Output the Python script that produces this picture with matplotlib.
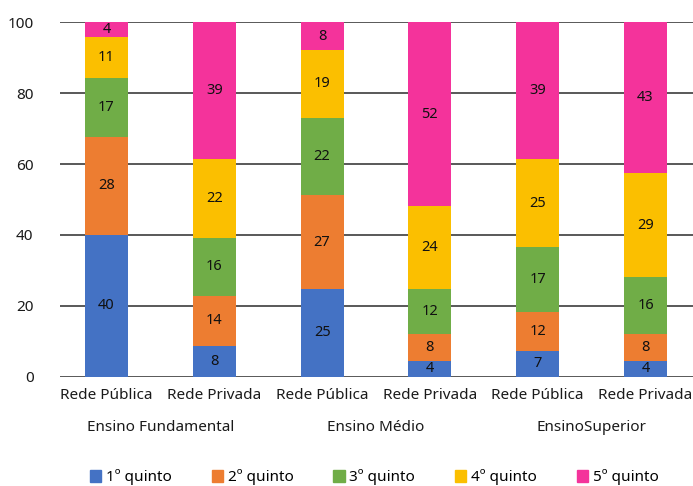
import numpy as np
import matplotlib.pyplot as plt
from matplotlib.patches import Patch

plt.rcParams['font.family'] = ['Noto Sans', 'DejaVu Sans']

bars = ['Rede Pública', 'Rede Privada'] * 3
groups = ['Ensino Fundamental', 'Ensino Médio', 'EnsinoSuperior']
quintos = ['1º quinto', '2º quinto', '3º quinto', '4º quinto', '5º quinto']
colors = ['#4472C4', '#ED7D31', '#70AD47', '#FBBF00', '#F4339B']

# segment heights
q1 = [40.1, 8.7, 24.7, 4.4, 7.3, 4.4]
q2 = [27.5, 14.2, 26.6, 7.7, 11.0, 7.7]
q3 = [16.7, 16.3, 21.7, 12.6, 18.3, 16.0]
q4 = [11.5, 22.2, 19.2, 23.5, 24.8, 29.4]
q5 = [4.2, 38.6, 7.8, 51.8, 38.6, 42.5]
# printed labels
lab1 = [40, 8, 25, 4, 7, 4]
lab2 = [28, 14, 27, 8, 12, 8]
lab3 = [17, 16, 22, 12, 17, 16]
lab4 = [11, 22, 19, 24, 25, 29]
lab5 = [4, 39, 8, 52, 39, 43]

series = [q1, q2, q3, q4, q5]
labels = [lab1, lab2, lab3, lab4, lab5]

fig = plt.figure(figsize=(6.93, 4.86), dpi=100)
ax = fig.add_axes([60 / 693, 1 - 376.7 / 486, 633 / 693, (376.7 - 22.3) / 486])

x = np.arange(len(bars))
bottom = np.zeros(len(bars))
for vals, labs, c, name in zip(series, labels, colors, quintos):
    bc = ax.bar(x, vals, 0.4, bottom=bottom, color=c, label=name, zorder=2)
    ax.bar_label(bc, labels=[str(v) for v in labs], label_type='center',
                 fontsize=10.5, color='#111111')
    bottom += np.array(vals)

ax.set_ylim(0, 100)
ax.set_xlim(-0.431, 5.44)
ax.set_yticks(range(0, 101, 20))
ax.yaxis.grid(True, color='#2b2b2b', linewidth=1.1, zorder=0)
ax.set_axisbelow(True)
for s in ax.spines.values():
    s.set_visible(False)
ax.tick_params(axis='both', length=0, labelsize=11, colors='#1a1a1a')
ax.tick_params(axis='y', pad=19)
ax.tick_params(axis='x', pad=8)
ax.set_xticks(x)
ax.set_xticklabels(bars)

for i, g in enumerate(groups):
    ax.text(2 * i + 0.5, -0.142, g, transform=ax.get_xaxis_transform(),
            ha='center', va='center', fontsize=11, color='#1a1a1a')

handles = [Patch(color=c, label=n) for c, n in zip(colors, quintos)]
fig.legend(handles=handles, ncol=5, loc='center', bbox_to_anchor=(0.54, 0.018),
           frameon=False, fontsize=11, handlelength=0.75, handleheight=0.75,
           handletextpad=0.3, columnspacing=2.6)

fig.savefig('out.png', dpi=100)
